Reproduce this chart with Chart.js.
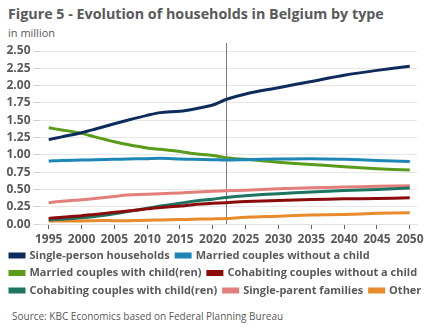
<!DOCTYPE html>
<html>
<head>
<meta charset="utf-8">
<script src="https://cdn.jsdelivr.net/npm/chart.js@4/dist/chart.umd.min.js"></script>
<style>
  body { margin: 0; background: #fff; font-family: 'Open Sans', sans-serif; color: #58595b; }
  #wrap { position: relative; width: 432px; height: 334px; overflow: hidden; }
  #title { position: absolute; left: 8px; top: 4px; font-size: 14.3px; font-weight: bold; white-space: nowrap; }
  #unit { position: absolute; left: 8px; top: 25px; font-size: 11px; }
  #box { position: absolute; left: 0; top: 36px; width: 432px; height: 270px; }
  #source { position: absolute; left: 12px; top: 309px; font-size: 10px; }
</style>
</head>
<body>
<div id="wrap">
  <div id="title">Figure 5 - Evolution of households in Belgium by type</div>
  <div id="unit">in million</div>
  <div id="box"><canvas id="chart"></canvas></div>
  <div id="source">Source: KBC Economics based on Federal Planning Bureau</div>
</div>
<script>
const years = [1995, 1997, 2000, 2002, 2005, 2007, 2010, 2012, 2015, 2017, 2020, 2022, 2025, 2030, 2035, 2040, 2045, 2050]
const xTicks = [1995, 2000, 2005, 2010, 2015, 2020, 2025, 2030, 2035, 2040, 2045, 2050]
const markerYear = 2022

const singlePerson = [1.22, 1.26, 1.32, 1.37, 1.45, 1.50, 1.57, 1.61, 1.63, 1.66, 1.72, 1.80, 1.88, 1.97, 2.06, 2.15, 2.22, 2.28]
const marriedNoChild = [0.91, 0.92, 0.925, 0.93, 0.935, 0.94, 0.945, 0.95, 0.94, 0.935, 0.93, 0.925, 0.93, 0.94, 0.945, 0.935, 0.92, 0.905]
const marriedChild = [1.39, 1.36, 1.31, 1.26, 1.19, 1.15, 1.10, 1.08, 1.05, 1.02, 0.99, 0.96, 0.935, 0.895, 0.86, 0.83, 0.80, 0.78]
const cohabNoChild = [0.08, 0.10, 0.12, 0.14, 0.17, 0.19, 0.22, 0.24, 0.26, 0.28, 0.30, 0.31, 0.325, 0.34, 0.355, 0.365, 0.37, 0.38]
const cohabChild = [0.06, 0.07, 0.09, 0.11, 0.15, 0.18, 0.23, 0.26, 0.30, 0.33, 0.36, 0.385, 0.41, 0.44, 0.465, 0.485, 0.50, 0.52]
const singleParent = [0.31, 0.33, 0.35, 0.37, 0.40, 0.42, 0.43, 0.44, 0.45, 0.46, 0.475, 0.48, 0.49, 0.51, 0.525, 0.535, 0.545, 0.555]
const other = [0.045, 0.045, 0.045, 0.05, 0.05, 0.05, 0.055, 0.06, 0.065, 0.07, 0.075, 0.08, 0.10, 0.115, 0.13, 0.14, 0.155, 0.165]

const textGrey = '#58595b'

function series(label, values, color) {
  return {
    label: label,
    data: values.map((v, i) => ({ x: years[i], y: v })),
    borderColor: color,
    backgroundColor: color,
    borderWidth: 3,
    pointRadius: 0,
    tension: 0.3
  }
}

const markerLine = {
  id: 'markerLine',
  beforeDatasetsDraw(chart) {
    const ctx = chart.ctx
    const x = Math.round(chart.scales.x.getPixelForValue(markerYear)) + 0.5
    ctx.save()
    ctx.strokeStyle = '#7a7a7a'
    ctx.lineWidth = 1
    ctx.beginPath()
    ctx.moveTo(x, chart.chartArea.top - 8)
    ctx.lineTo(x, chart.chartArea.bottom)
    ctx.stroke()
    ctx.restore()
  }
}

function draw() {
  new Chart(document.getElementById('chart'), {
    type: 'line',
    data: {
      datasets: [
        series('Single-person households', singlePerson, '#0d2c5c'),
        series('Married couples without a child', marriedNoChild, '#1d86b6'),
        series('Married couples with child(ren)', marriedChild, '#5b9b1b'),
        series('Cohabiting couples without a child', cohabNoChild, '#8b0a0a'),
        series('Cohabiting couples with child(ren)', cohabChild, '#1d7461'),
        series('Single-parent families', singleParent, '#e27f7a'),
        series('Other', other, '#e98a2d')
      ]
    },
    options: {
      responsive: true,
      maintainAspectRatio: false,
      animation: false,
      layout: { padding: { top: 15, left: 3.5, right: 0, bottom: 0 } },
      scales: {
        x: {
          type: 'linear',
          min: 1993.6,
          max: 2051.1,
          afterBuildTicks: scale => { scale.ticks = xTicks.map(v => ({ value: v })) },
          afterFit: scale => { scale.height -= 6 },
          grid: { drawOnChartArea: false, drawTicks: true, tickLength: 5, tickColor: '#666' },
          border: { color: '#e3e3e3' },
          ticks: { color: textGrey, padding: 3, font: { family: 'Open Sans', size: 12, weight: 'bold' }, maxRotation: 0, callback: v => String(v) }
        },
        y: {
          min: 0,
          max: 2.5,
          afterFit: scale => { scale.width = 36 },
          ticks: { stepSize: 0.25, autoSkip: false, color: textGrey, padding: 3, font: { family: 'Open Sans', size: 12, weight: 'bold' }, callback: v => v.toFixed(2) },
          grid: { color: '#e6e6e6', tickLength: 6, tickColor: '#cfcfcf' },
          border: { display: false }
        },
        yRight: {
          position: 'right',
          afterFit: scale => { scale.width = 15 },
          ticks: { display: false },
          grid: { display: false },
          border: { display: false }
        }
      },
      plugins: {
        legend: {
          position: 'bottom',
          align: 'start',
          labels: {
            boxWidth: 14,
            boxHeight: 3,
            padding: 6.5,
            color: textGrey,
            font: { family: 'Open Sans', size: 11, weight: 'bold' }
          }
        },
        tooltip: { enabled: false }
      }
    },
    plugins: [markerLine]
  })
}

Promise.all([
  document.fonts.load('bold 13px "Open Sans"'),
  document.fonts.load('13px "Open Sans"')
]).then(draw, draw)
</script>
</body>
</html>
